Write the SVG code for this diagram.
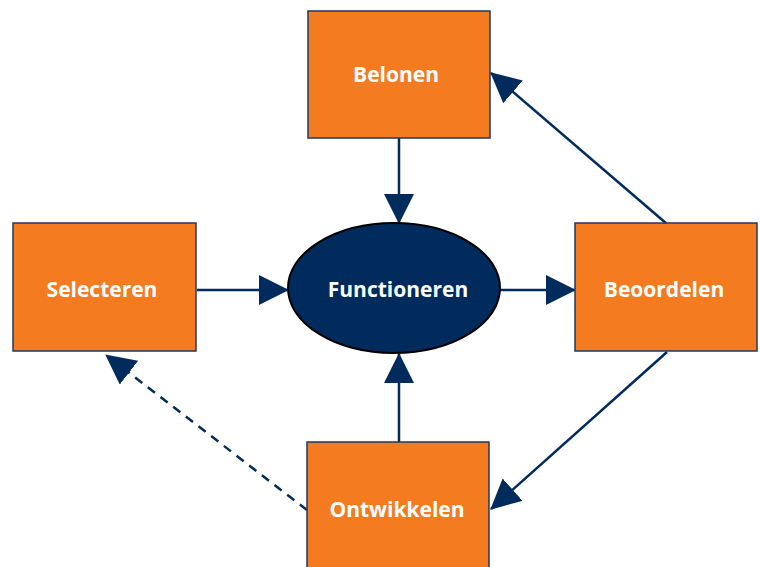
<svg xmlns="http://www.w3.org/2000/svg" width="760" height="567" viewBox="0 0 760 567">
<style>
.box{fill:#F47B20;stroke:#1F3A60;stroke-width:1.5}
.lbl{font-family:"Open Sans","Liberation Sans",sans-serif;font-weight:bold;font-size:21px;fill:#FFFFFF;text-anchor:middle}
.con{stroke:#002B5C;stroke-width:2.5;fill:none}
.dash{stroke-dasharray:9,7}
</style>
<defs>
<marker id="ah" markerUnits="userSpaceOnUse" markerWidth="30" markerHeight="30" refX="29" refY="15" orient="auto" viewBox="0 0 30 30">
<path d="M0,0 L30,15 L0,30 z" fill="#002B5C"/>
</marker>
</defs>
<rect width="760" height="567" fill="#FFFFFF"/>
<g id="connectors">
<line class="con" x1="399" y1="138" x2="399" y2="223" marker-end="url(#ah)"/>
<line class="con" x1="197" y1="290" x2="288" y2="290" marker-end="url(#ah)"/>
<line class="con" x1="500" y1="290" x2="575" y2="290" marker-end="url(#ah)"/>
<line class="con" x1="399" y1="442" x2="399" y2="354" marker-end="url(#ah)"/>
<line class="con" x1="667" y1="224" x2="491" y2="73" marker-end="url(#ah)"/>
<line class="con" x1="667" y1="352" x2="491" y2="509" marker-end="url(#ah)"/>
<line class="con dash" x1="307" y1="510" x2="106" y2="355" marker-end="url(#ah)"/>
</g>
<g id="belonen">
<rect class="box" x="308" y="11" width="182" height="127"/>
<text class="lbl" x="396" y="82">Belonen</text>
</g>
<g id="selecteren">
<rect class="box" x="13" y="223" width="183" height="128"/>
<text class="lbl" x="102" y="297">Selecteren</text>
</g>
<g id="functioneren">
<ellipse cx="394" cy="288" rx="106" ry="65" fill="#002B5C" stroke="#000000" stroke-width="2"/>
<text class="lbl" x="398" y="297">Functioneren</text>
</g>
<g id="beoordelen">
<rect class="box" x="575" y="223" width="182" height="128"/>
<text class="lbl" x="664" y="297">Beoordelen</text>
</g>
<g id="ontwikkelen">
<rect class="box" x="307" y="442" width="182" height="140"/>
<text class="lbl" x="397" y="517">Ontwikkelen</text>
</g>
</svg>
